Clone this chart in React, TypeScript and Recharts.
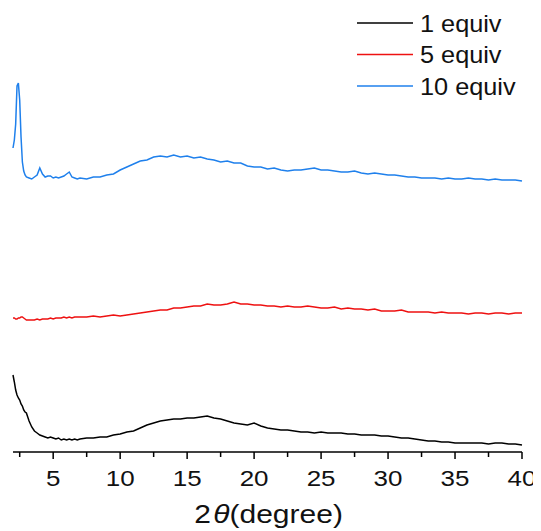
import React from "react";
import { LineChart, Line, XAxis, YAxis, Label } from "recharts";

// 2θ sampling positions (degree)
const twoTheta = [
  2.0, 2.1, 2.2, 2.3, 2.4, 2.5, 2.6, 2.7, 2.8, 2.9, 3.0,
  3.2, 3.4, 3.6, 3.8, 4.0, 4.2, 4.4, 4.6, 4.8, 5.0, 5.2, 5.4, 5.6, 5.8, 6.0, 6.2, 6.4, 6.6, 6.8, 7.0,
  7.5, 8.0, 8.5, 9.0, 9.5, 10.0, 10.5, 11.0, 11.5, 12.0, 12.5, 13.0, 13.5, 14.0, 14.5, 15.0,
  15.5, 16.0, 16.5, 17.0, 17.5, 18.0, 18.5, 19.0, 19.5, 20.0, 20.5, 21.0, 21.5, 22.0, 22.5,
  23.0, 23.5, 24.0, 24.5, 25.0, 25.5, 26.0, 26.5, 27.0, 27.5, 28.0, 28.5, 29.0, 29.5, 30.0,
  30.5, 31.0, 31.5, 32.0, 32.5, 33.0, 33.5, 34.0, 34.5, 35.0, 35.5, 36.0, 36.5, 37.0, 37.5,
  38.0, 38.5, 39.0, 39.5, 40.0,
];

// Intensities (a.u., stacked with offsets as in the figure)
const equiv1 = [
  77, 70, 62, 57, 54, 52, 48, 46, 42, 40, 39,
  31, 25, 21, 19, 17, 16, 15, 14, 15, 14, 13, 14, 12, 13, 12, 13, 12, 13, 12, 13,
  14, 14, 15, 15, 17, 18, 20, 21, 24, 27, 29, 31, 32, 33, 33, 34,
  34, 35, 36, 34, 33, 31, 29, 28, 27, 29, 26, 24, 23, 22, 22,
  21, 20, 20, 19, 20, 19, 19, 19, 18, 18, 17, 17, 17, 16, 16,
  15, 14, 14, 13, 12, 11, 11, 10, 10, 9, 9, 9, 9, 9, 8,
  9, 9, 8, 8, 7,
];

const equiv5 = [
  134, 134, 133, 133, 134, 134, 135, 135, 134, 133, 132,
  132, 132, 132, 133, 132, 133, 133, 133, 134, 133, 134, 134, 134, 135, 134, 135, 134, 135, 135, 135,
  135, 136, 135, 136, 137, 136, 137, 138, 139, 140, 141, 142, 142, 144, 144, 145,
  146, 146, 148, 147, 147, 148, 150, 148, 148, 147, 147, 146, 146, 145, 146,
  145, 145, 146, 145, 144, 144, 145, 143, 144, 143, 143, 142, 143, 141, 141,
  141, 142, 140, 140, 140, 140, 139, 140, 139, 139, 139, 138, 139, 139, 138,
  139, 139, 138, 139, 139,
];

const equiv10 = [
  304, 312, 328, 366, 369, 352, 315, 290, 281, 277, 275,
  274, 273, 275, 277, 284, 278, 275, 276, 276, 274, 275, 274, 275, 276, 278, 280, 275, 274, 273, 274,
  273, 275, 275, 277, 278, 282, 285, 288, 291, 292, 295, 296, 295, 297, 295, 296,
  294, 295, 293, 292, 290, 291, 289, 289, 286, 285, 285, 283, 284, 282, 281,
  282, 282, 283, 284, 282, 282, 281, 280, 280, 281, 279, 278, 279, 278, 277,
  277, 276, 275, 275, 274, 274, 274, 273, 274, 273, 273, 274, 273, 273, 272,
  273, 272, 272, 272, 271,
];

const seriesNames = ["1 equiv", "5 equiv", "10 equiv"];
const seriesColors = ["#000000", "#ee1111", "#1f80ec"];
const xTicks = [2.5, 5, 7.5, 10, 12.5, 15, 17.5, 20, 22.5, 25, 27.5, 30, 32.5, 35, 37.5, 40];

const data = twoTheta.map((t, i) => ({
  t,
  a: equiv1[i],
  b: equiv5[i],
  c: equiv10[i],
}));

const FONT = "'Liberation Sans', Arial, sans-serif";

const Tick = (props: any) => {
  const { x, y, payload } = props;
  const v = payload.value;
  const major = Math.abs(v % 5) < 1e-6;
  return (
    <g>
      <line x1={x} y1={y} x2={x} y2={y + (major ? 7 : 5)} stroke="#000" strokeWidth={1.5} />
      {major && (
        <text
          transform={`translate(${x},${y + 34}) scale(1.18,1)`}
          textAnchor="middle"
          fontFamily={FONT}
          fontSize={22}
          fill="#111"
        >
          {v}
        </text>
      )}
    </g>
  );
};

const AxisTitle = (props: any) => {
  const vb = props.viewBox || {};
  const cx = vb.x + vb.width / 2;
  const y = vb.y + 71;
  return (
    <text
      transform={`translate(${cx + 1},${y}) scale(1.2,1)`}
      textAnchor="middle"
      fontFamily={FONT}
      fontSize={25}
      fill="#111"
    >
      2<tspan fontStyle="italic" dx={2}>θ</tspan>(degree)
    </text>
  );
};

export default function App() {
  return (
    <div style={{ position: "relative", width: 533, height: 523 }}>
      <LineChart
        width={533}
        height={523}
        data={data}
        margin={{ top: 44, right: 19, bottom: 9, left: 5 }}
      >
        <XAxis
          dataKey="t"
          type="number"
          domain={[2, 40]}
          ticks={xTicks}
          interval={0}
          allowDecimals
          tick={<Tick />}
          tickLine={false}
          tickSize={0}
          tickMargin={0}
          axisLine={{ stroke: "#000", strokeWidth: 1.5 }}
          height={70}
        >
          <Label content={<AxisTitle />} position="bottom" />
        </XAxis>
        <YAxis type="number" domain={[0, 400]} hide />
        <Line type="linear" dataKey="a" name={seriesNames[0]} stroke={seriesColors[0]} strokeWidth={1.5} dot={false} isAnimationActive={false} />
        <Line type="linear" dataKey="b" name={seriesNames[1]} stroke={seriesColors[1]} strokeWidth={1.5} dot={false} isAnimationActive={false} />
        <Line type="linear" dataKey="c" name={seriesNames[2]} stroke={seriesColors[2]} strokeWidth={1.5} dot={false} isAnimationActive={false} />
      </LineChart>
      <svg
        width={533}
        height={110}
        style={{ position: "absolute", left: 0, top: 0, pointerEvents: "none" }}
      >
        {seriesNames.map((n, i) => (
          <g key={n}>
            <line x1={349} x2={405} y1={15 + i * 31.5} y2={15 + i * 31.5} stroke={seriesColors[i]} strokeWidth={1.5} />
            <text
              transform={`translate(412,${23.7 + i * 31.5}) scale(1.1,1)`}
              fontFamily={FONT}
              fontSize={23}
              fill="#111"
            >
              {n}
            </text>
          </g>
        ))}
      </svg>
    </div>
  );
}
